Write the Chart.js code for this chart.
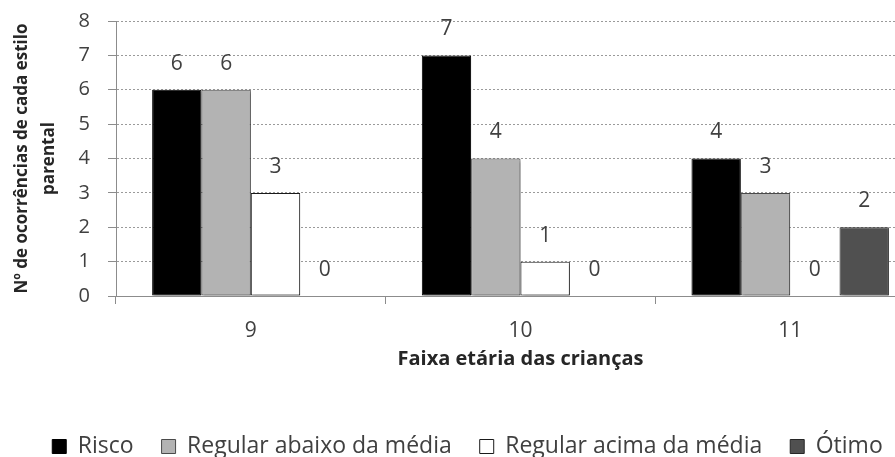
<!DOCTYPE html>
<html>
<head>
<meta charset="utf-8">
<script src="https://cdn.jsdelivr.net/npm/chart.js@4/dist/chart.umd.min.js"></script>
<style>
  html, body { margin: 0; padding: 0; background: #fff; overflow: hidden; }
  #wrap { width: 945px; height: 457px; }
</style>
</head>
<body>
<div id="wrap"><canvas id="chart" width="945" height="457"></canvas></div>
<script>
// Age groups of the children
const categories = ['9', '10', '11'];

// Parenting style counts per age group
const risco = [6, 7, 4];
const regularAbaixo = [6, 4, 3];
const regularAcima = [3, 1, 0];
const otimo = [0, 0, 2];

const seriesNames = ['Risco', 'Regular abaixo da média', 'Regular acima da média', 'Ótimo'];
const yTicks = [0, 1, 2, 3, 4, 5, 6, 7, 8];

Chart.defaults.font.family = '"Open Sans", "DejaVu Sans", sans-serif';
Chart.defaults.color = '#404040';

// Writes each bar's value above it
const valueLabels = {
  id: 'valueLabels',
  afterDatasetsDraw(chart) {
    const ctx = chart.ctx;
    ctx.save();
    ctx.font = '21px "Open Sans"';
    ctx.fillStyle = '#404040';
    ctx.textAlign = 'center';
    ctx.textBaseline = 'middle';
    chart.data.datasets.forEach((ds, i) => {
      const meta = chart.getDatasetMeta(i);
      meta.data.forEach((bar, j) => {
        ctx.fillText(String(ds.data[j]), bar.x, bar.y - 26);
      });
    });
    ctx.restore();
  }
};

// Soft drop shadow behind the bars
const barShadow = {
  id: 'barShadow',
  beforeDatasetsDraw(chart) {
    const ctx = chart.ctx;
    ctx.save();
    ctx.shadowColor = 'rgba(0,0,0,0.28)';
    ctx.shadowOffsetX = 2;
    ctx.shadowOffsetY = 2;
    ctx.shadowBlur = 2;
  },
  afterDatasetsDraw(chart) {
    chart.ctx.restore();
  }
};

const barStyle = { borderWidth: 1, borderSkipped: false, barPercentage: 1, categoryPercentage: 0.732 };

new Chart(document.getElementById('chart'), {
  type: 'bar',
  data: {
    labels: categories,
    datasets: [
      Object.assign({ label: seriesNames[0], data: risco, backgroundColor: '#000000', borderColor: '#000000' }, barStyle),
      Object.assign({ label: seriesNames[1], data: regularAbaixo, backgroundColor: '#b3b3b3', borderColor: '#4a4a4a' }, barStyle),
      Object.assign({ label: seriesNames[2], data: regularAcima, backgroundColor: '#ffffff', borderColor: '#1a1a1a' }, barStyle),
      Object.assign({ label: seriesNames[3], data: otimo, backgroundColor: '#505050', borderColor: '#262626' }, barStyle)
    ]
  },
  options: {
    responsive: false,
    animation: false,
    devicePixelRatio: 1,
    layout: { padding: { top: 21, right: 20, bottom: -11, left: 10 } },
    plugins: {
      legend: {
        position: 'bottom',
        labels: {
          boxWidth: 14,
          boxHeight: 14,
          padding: 28,
          color: '#404040',
          font: { size: 23 }
        }
      },
      tooltip: { enabled: false }
    },
    scales: {
      x: {
        afterFit(scale) { scale.height = 111; },
        grid: {
          display: true,
          drawOnChartArea: false,
          drawTicks: true,
          tickLength: 8,
          color: '#8c8c8c'
        },
        border: { color: '#8c8c8c', width: 1 },
        ticks: { padding: 14, color: '#404040', font: { size: 21 } },
        title: {
          display: true,
          text: 'Faixa etária das crianças',
          color: '#262626',
          font: { size: 20, weight: 'bold' },
          padding: { top: 0, bottom: 36 }
        }
      },
      y: {
        min: 0,
        max: 8,
        afterFit(scale) {
          scale.width = 106;
          scale.paddingTop = 0;
          scale.paddingBottom = 0;
        },
        afterBuildTicks(scale) { scale.ticks = yTicks.map(v => ({ value: v })); },
        grid: {
          color: '#9a9a9a',
          tickColor: '#8c8c8c',
          tickLength: 8,
          tickBorderDash: []
        },
        border: { color: '#8c8c8c', width: 1, dash: [2, 2] },
        ticks: { padding: 18, color: '#404040', font: { size: 20 } },
        title: {
          display: true,
          text: ['Nº de ocorrências de cada estilo', 'parental'],
          color: '#262626',
          font: { size: 17, weight: 'bold', lineHeight: '27px' },
          padding: { top: -1, bottom: 0 }
        }
      }
    }
  },
  plugins: [barShadow, valueLabels]
});
</script>
</body>
</html>
